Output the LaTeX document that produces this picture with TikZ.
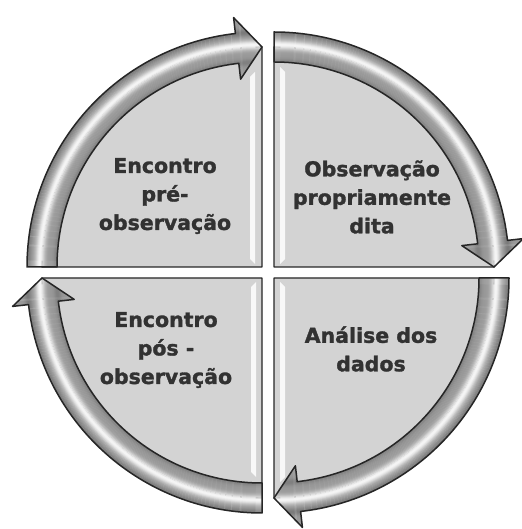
\documentclass[tikz,border=0pt]{standalone}
\usepackage{fontspec}
\setmainfont{DejaVu Sans}[BoldFeatures={FakeBold=1.5}]
\definecolor{piecegray}{RGB}{211,211,211}
\definecolor{edgegray}{RGB}{38,38,38}
\definecolor{txtgray}{RGB}{50,50,50}
\tikzset{
  piecebox/.style={fill=piecegray, draw=edgegray, line width=1.4pt, line join=round},
  arrowedge/.style={draw=edgegray, line width=1.5pt, line join=round},
  lbl/.style={font=\bfseries\fontsize{20.5}{28.5}\selectfont, text=txtgray, align=center, inner sep=0pt},
  hilite/.style={fill=white, opacity=0.85},
}
% arrow path around centre (already shifted), start angle #1, clockwise 90 deg
\newcommand{\cycarrowpath}[1]{%
  (#1:235) arc[start angle=#1, end angle={#1-83.5}, radius=235]
  -- ({#1-83.5}:251) -- ({#1-90}:220) -- ({#1-83.5}:189)
  -- ({#1-83.5}:205) arc[start angle={#1-83.5}, end angle=#1, radius=205] -- cycle}
\newcommand{\cycarrow}[2]{%
  \begin{scope}[shift={#2}]
    \begin{scope}
      \clip \cycarrowpath{#1};
      \foreach \r in {186,...,253}{%
        \pgfmathsetmacro{\tt}{(\r-205)/30}%
        \pgfmathsetmacro{\lv}{0.60+0.36*exp(-((\tt-0.58)/0.16)^2)-0.10*exp(-((\tt)/0.12)^2)-0.12*exp(-((\tt-1)/0.12)^2)}%
        \definecolor{ringc}{gray}{\lv}%
        \draw[ringc, line width=1.3pt] (0,0) circle[radius=\r];
      }
    \end{scope}
    \draw[arrowedge] \cycarrowpath{#1};
  \end{scope}}
\begin{document}
\begin{tikzpicture}[x=1pt,y=1pt]
  \useasboundingbox (0,0) rectangle (521,529);
  % quarter pieces
  \coordinate (ctl) at (262,262);
  \coordinate (ctr) at (274,262);
  \coordinate (cbl) at (262,251);
  \coordinate (cbr) at (274,251);
  \draw[piecebox] (ctl) -- ++(-220,0) arc[start angle=180, end angle=90, radius=220] -- cycle;
  \draw[piecebox] (ctr) -- ++(0,220) arc[start angle=90, end angle=0, radius=220] -- cycle;
  \draw[piecebox] (cbl) -- ++(0,-220) arc[start angle=270, end angle=180, radius=220] -- cycle;
  \draw[piecebox] (cbr) -- ++(220,0) arc[start angle=0, end angle=-90, radius=220] -- cycle;
  % bevel highlights
  \fill[hilite] (250,452) -- (255,457) -- (255,265) -- (250,270) -- cycle;
  \fill[hilite] (280,462) -- (285,457) -- (285,270) -- (280,265) -- cycle;
  \fill[hilite] (251,242) -- (256,247) -- (256,52) -- (251,57) -- cycle;
  \fill[hilite] (280,247) -- (285,242) -- (285,52) -- (280,47) -- cycle;
  % circular arrows
  \cycarrow{180}{(ctl)}
  \cycarrow{90}{(ctr)}
  \cycarrow{0}{(cbr)}
  \cycarrow{270}{(cbl)}
  % labels
  \node[lbl] (pre) at (165,333) {Encontro\\pré-\\observação};
  \node[lbl] (obs) at (372,332) {Observação\\propriamente\\dita};
  \node[lbl] (pos) at (166,179) {Encontro\\pós -\\observação};
  \node[lbl] (ana) at (371,180) {Análise dos\\dados};
\end{tikzpicture}
\end{document}
